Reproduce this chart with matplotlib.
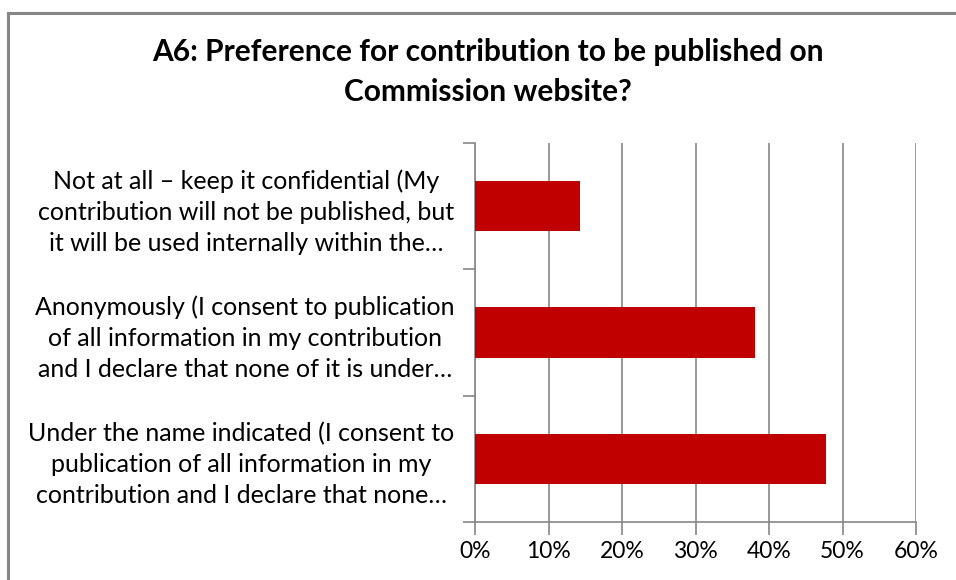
import matplotlib
matplotlib.use("Agg")
import matplotlib.pyplot as plt
import matplotlib.transforms as mtransforms
from matplotlib.patches import Rectangle
from matplotlib.ticker import FixedLocator, PercentFormatter

categories = [
    "Not at all \u2013 keep it confidential (My\ncontribution will not be published, but\nit will be used internally within the\u2026",
    "Anonymously (I consent to publication\nof all information in my contribution\nand I declare that none of it is under\u2026",
    "Under the name indicated (I consent to\npublication of all information in my\ncontribution and I declare that none\u2026",
]
values = [14.3, 38.1, 47.7]
xticks = [0, 10, 20, 30, 40, 50, 60]
title = "A6: Preference for contribution to be published on\nCommission website?"

plt.rcParams['font.family'] = ['Lato', 'DejaVu Sans']

fig = plt.figure(figsize=(9.56, 5.8), dpi=100)
fig.patch.set_facecolor('white')

# chart frame (extends beyond canvas on right/bottom as in reference)
fig.patches.append(Rectangle((7.5/956, -0.05), 1.2, 1 - 12.5/580 + 0.05,
                             transform=fig.transFigure, fill=False,
                             edgecolor='#868686', linewidth=2.2))

ax = fig.add_axes([475.3/956, 1 - 522/580, (916 - 475.3)/956, (522 - 143)/580])
ypos = list(range(len(categories)))
ax.barh(ypos, values, height=0.4, color='#C00000', zorder=3)
ax.set_ylim(len(categories) - 0.5, -0.5)
ax.set_xlim(0, 60)

ax.set_xticks(xticks)
ax.xaxis.set_major_formatter(PercentFormatter(decimals=0))
ax.grid(axis='x', color='#868686', linewidth=1.2, zorder=0)

ax.set_yticks(ypos)
ax.set_yticklabels(categories, multialignment='center', fontsize=18, linespacing=1.42)
offset = mtransforms.ScaledTranslation(0, 5/100, fig.dpi_scale_trans)
for lbl in ax.get_yticklabels():
    lbl.set_transform(lbl.get_transform() + offset)
ax.yaxis.set_minor_locator(FixedLocator([i - 0.5 for i in range(len(categories) + 1)]))
ax.tick_params(axis='y', which='major', length=0, pad=15)
ax.tick_params(axis='y', which='minor', length=9, width=1.2, color='#868686')
ax.tick_params(axis='x', which='major', length=9, width=1.2, color='#868686',
               labelsize=16.5, pad=5)

for s in ['top', 'right']:
    ax.spines[s].set_visible(False)
for s in ['left', 'bottom']:
    ax.spines[s].set_color('#868686')
    ax.spines[s].set_linewidth(1.2)

fig.text(488/956, 1 - 72/580, title, ha='center', va='center', fontsize=21.5,
         fontweight='bold', linespacing=1.5)

fig.savefig('out.png', dpi=100)
